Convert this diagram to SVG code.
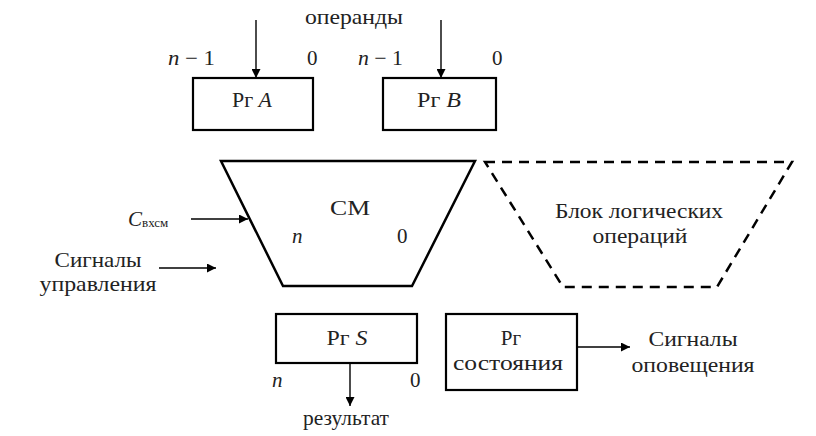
<svg xmlns="http://www.w3.org/2000/svg" width="816" height="436" viewBox="0 0 816 436">
<defs>
<marker id="ah" viewBox="0 0 10 10" refX="10" refY="5" markerWidth="10" markerHeight="9" markerUnits="userSpaceOnUse" orient="auto">
<path d="M0,0 L10,5 L0,10 z" fill="#000"/>
</marker>
<style>
text{font-family:"Liberation Serif",Tinos,"Times New Roman",Times,"DejaVu Serif",serif;font-size:21px;fill:#222}
.c{text-anchor:middle}
.i{font-style:italic}
.box{fill:#fff;stroke:#000;stroke-width:2.2}
.sol{fill:#fff;stroke:#000;stroke-width:2.5}
.dash{fill:none;stroke:#000;stroke-width:2.5;stroke-dasharray:10,7}
.ar{stroke:#000;stroke-width:1.4;fill:none;marker-end:url(#ah)}
</style>
</defs>
<rect width="816" height="436" fill="#fff"/>
<g id="connectors">
<line class="ar" x1="256" y1="20" x2="256" y2="78"/>
<line class="ar" x1="441" y1="20" x2="441" y2="78"/>
<line class="ar" x1="191" y1="219" x2="248" y2="219"/>
<line class="ar" x1="159" y1="268" x2="216" y2="268"/>
<line class="ar" x1="350" y1="363" x2="350" y2="406"/>
<line class="ar" x1="577" y1="347" x2="630" y2="347"/>
</g>
<g id="operands-label"><text class="c" x="354" y="24" textLength="98" lengthAdjust="spacingAndGlyphs">операнды</text></g>
<g id="rgA">
<rect class="box" x="193" y="78" width="120" height="52"/>
<text class="c" x="252" y="107" textLength="40" lengthAdjust="spacingAndGlyphs">Рг <tspan class="i">A</tspan></text>
<text x="168" y="65" textLength="47" lengthAdjust="spacingAndGlyphs"><tspan class="i">n</tspan> − 1</text>
<text x="307" y="65">0</text>
</g>
<g id="rgB">
<rect class="box" x="383" y="78" width="113" height="52"/>
<text class="c" x="439" y="107" textLength="44" lengthAdjust="spacingAndGlyphs">Рг <tspan class="i">B</tspan></text>
<text x="358" y="65" textLength="45" lengthAdjust="spacingAndGlyphs"><tspan class="i">n</tspan> − 1</text>
<text x="492" y="65">0</text>
</g>
<g id="cm">
<polygon class="sol" points="221,161 475,161 412,286 283,286"/>
<text class="c" x="350" y="215" textLength="40" lengthAdjust="spacingAndGlyphs">СМ</text>
<text class="i" x="292" y="243">n</text>
<text x="397" y="243">0</text>
</g>
<g id="c-label"><text x="128" y="226"><tspan class="i">C</tspan><tspan font-size="13" dy="1">вхсм</tspan></text></g>
<g id="ctrl-label">
<text x="98" y="267" class="c" textLength="87" lengthAdjust="spacingAndGlyphs">Сигналы</text>
<text x="98" y="291" class="c" textLength="117" lengthAdjust="spacingAndGlyphs">управления</text>
</g>
<g id="logic">
<polygon class="dash" points="485,162 792,162 717,287 563,287"/>
<text class="c" x="639" y="218" textLength="168" lengthAdjust="spacingAndGlyphs">Блок логических</text>
<text class="c" x="640" y="243" textLength="95" lengthAdjust="spacingAndGlyphs">операций</text>
</g>
<g id="rgS">
<rect class="box" x="276" y="314" width="141" height="49"/>
<text class="c" x="347" y="345" textLength="41" lengthAdjust="spacingAndGlyphs">Рг <tspan class="i">S</tspan></text>
<text class="i" x="272" y="387">n</text>
<text x="410" y="387">0</text>
</g>
<g id="result-label"><text class="c" x="346" y="425" textLength="86" lengthAdjust="spacingAndGlyphs">результат</text></g>
<g id="rgState">
<rect class="box" x="446" y="314" width="131" height="76"/>
<text class="c" x="511" y="345">Рг</text>
<text class="c" x="508" y="370" textLength="110" lengthAdjust="spacingAndGlyphs">состояния</text>
</g>
<g id="notify-label">
<text class="c" x="693" y="346" textLength="89" lengthAdjust="spacingAndGlyphs">Сигналы</text>
<text class="c" x="693" y="372" textLength="123" lengthAdjust="spacingAndGlyphs">оповещения</text>
</g>
</svg>
